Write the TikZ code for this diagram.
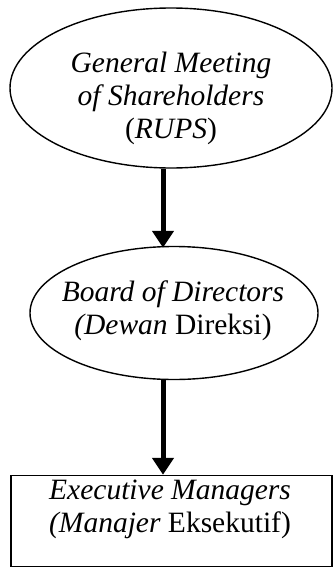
\documentclass[tikz,border=0pt]{standalone}
\usepackage{fontspec}
\setmainfont{Liberation Serif}
\usetikzlibrary{shapes.geometric,arrows.meta}
\begin{document}
\begin{tikzpicture}[x=1pt,y=-1pt,
  shp/.style={draw=black,line width=1.4pt,inner sep=0pt},
  txt/.style={align=center,font=\fontsize{29.5}{33}\selectfont,inner sep=0pt},
  arr/.style={line width=5pt,-{Triangle[width=21pt,length=17pt]}}]
\useasboundingbox (0,0) rectangle (333,568);
\node[shp,ellipse,minimum width=322pt,minimum height=160pt] (e1) at (171,88) {};
\node[txt] (t1) at (171,98) {\textit{General Meeting}\\ \textit{of Shareholders}\\ (\textit{RUPS})};
\node[shp,ellipse,minimum width=288pt,minimum height=133pt] (e2) at (174,313) {};
\node[txt] (t2) at (173,311) {\textit{Board of Directors}\\ \textit{(Dewan} Direksi)};
\node[shp,rectangle,minimum width=321pt,minimum height=91pt] (b) at (171.5,521) {};
\node[txt] (t3) at (170,509) {\textit{Executive Managers}\\ \textit{(Manajer} Eksekutif)};
\draw[arr] ([xshift=-8pt]e1.south) -- ([xshift=-11pt,yshift=-2pt]e2.north);
\draw[arr] ([xshift=-11pt]e2.south) -- ([xshift=-8.5pt]b.north);
\end{tikzpicture}
\end{document}
